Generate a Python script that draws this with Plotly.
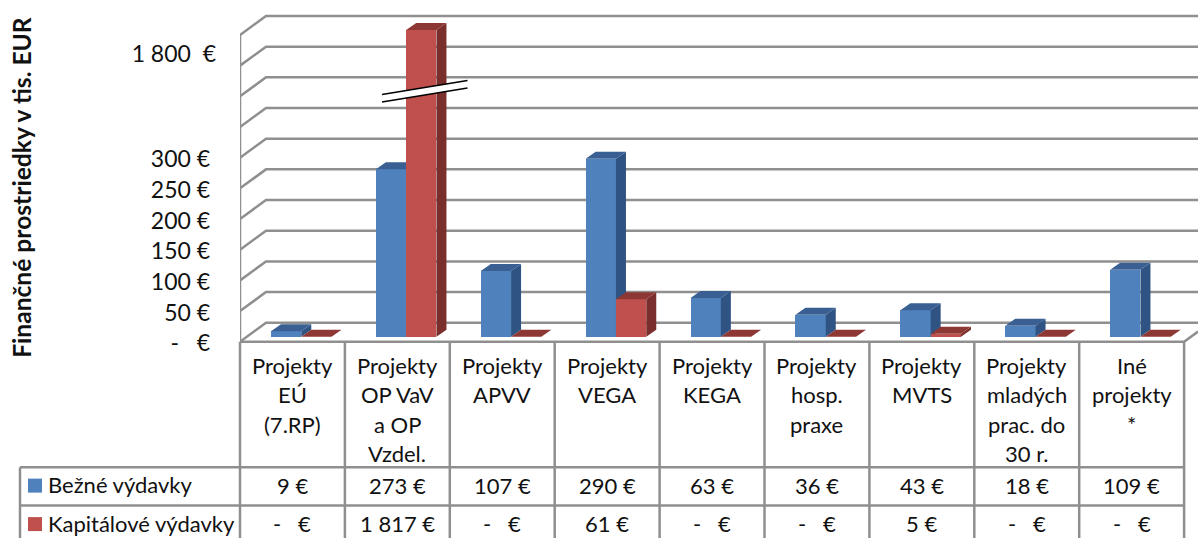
import numpy as np
import plotly.graph_objects as go

categories = ["Projekty<br>EÚ<br>(7.RP)", "Projekty<br>OP VaV<br>a OP<br>Vzdel.", "Projekty<br>APVV",
              "Projekty<br>VEGA", "Projekty<br>KEGA", "Projekty<br>hosp.<br>praxe", "Projekty<br>MVTS",
              "Projekty<br>mladých<br>prac. do<br>30 r.", "Iné<br>projekty<br>*"]
bezne = [9, 273, 107, 290, 63, 36, 43, 18, 109]
kapital = [0, 1817, 0, 61, 0, 0, 5, 0, 0]
series_names = ["Bežné výdavky", "Kapitálové výdavky"]
tick_values = [0, 50, 100, 150, 200, 250, 300, 472]
tick_labels = ["-   €", "50 €", "100 €", "150 €", "200 €", "250 €", "300 €", "1 800  €"]
grid_values = list(range(0, 501, 50))

W, H = 1198, 538
X0, Y0 = 240.0, 342.0
CW = 104.9
VS = 0.614
FS = 22
FONT = "Lato"
TEXT = "#111111"
GRID = "#8F8F8F"
LABEL_NUDGE = 2.5
BELOW = 20  # axis units kept below zero so the lowest tick label is inside the axis range
PB = Y0 + BELOW * VS  # pixel row of the plot area's bottom edge


def px(x):
    return (x - X0) / (W - X0)


def py(y):
    return (PB - y) / PB


def broken(v):
    return float(np.interp(v, [0, 300, 1817], [0, 300, 500]))


def money(v):
    if v == 0:
        return "-   €"
    if v >= 1000:
        return f"{v // 1000} {v % 1000:03d} €"
    return f"{v} €"


xmax = (W - X0) / CW
ymax = Y0 / VS
yrange = [-BELOW, ymax]
wall_dx, wall_dy = 26 / CW, 19 / VS
bar_w = 30.3 / CW
bar_dx, bar_dy = 10 / CW, 7 / VS
base = 5 / VS
centre = 0.584

fig = go.Figure()

# walls and floor
gx, gy = [0, 0, None], [0, 500, None]
for g in grid_values:
    gx += [0, wall_dx, xmax, None]
    gy += [g, g + wall_dy, g + wall_dy, None]
t = (xmax - 9) / wall_dx
gx += [0, 9, xmax]
gy += [0, 0, t * wall_dy]
fig.add_trace(go.Scatter(x=gx, y=gy, mode="lines", line=dict(color=GRID, width=2.5),
                         hoverinfo="skip", showlegend=False, cliponaxis=False))


def add_series(values, name, offset, front, side, top, xa, ya):
    xs = [i + centre + offset for i in range(len(values))]
    hs = [broken(v) for v in values]
    fig.add_trace(go.Bar(x=xs, y=hs, base=base, width=bar_w, name=name, marker=dict(color=front, line=dict(width=0)),
                         customdata=values, hovertemplate="%{customdata} €<extra>" + name + "</extra>",
                         showlegend=False, xaxis=xa, yaxis=ya))
    sx, sy, tx, ty = [], [], [], []
    for x, h in zip(xs, hs):
        l, r, b, u = x - bar_w / 2, x + bar_w / 2, base, base + h
        sx += [r, r + bar_dx, r + bar_dx, r, r, None]
        sy += [b, b + bar_dy, u + bar_dy, u, b, None]
        tx += [l, l + bar_dx, r + bar_dx, r, l, None]
        ty += [u, u + bar_dy, u + bar_dy, u, u, None]
    for a, b, c in ((sx, sy, side), (tx, ty, top)):
        fig.add_trace(go.Scatter(x=a, y=b, mode="lines", fill="toself", fillcolor=c, line=dict(width=0, color=c),
                                 hoverinfo="skip", showlegend=False, xaxis=xa, yaxis=ya))


add_series(bezne, series_names[0], -bar_w / 2, "#4F81BD", "#2F5483", "#3A6093", "x2", "y2")
add_series(kapital, series_names[1], bar_w / 2, "#C0504D", "#7A2F2D", "#8E3836", "x3", "y3")

shapes = []


def line(x0, y0, x1, y1, color=GRID, width=2.5):
    shapes.append(dict(type="line", xref="paper", yref="paper", x0=px(x0), y0=py(y0), x1=px(x1), y1=py(y1),
                       line=dict(color=color, width=width)))


# data table grid
edges = [X0 + CW * i for i in range(len(categories) + 1)]
for x in edges:
    line(x, Y0, x, H + 2)
for y in (467.7, 506):
    line(20, y, edges[-1], y)
line(20, 467.7, 20, H + 2)

# axis break
shapes.append(dict(type="path", xref="paper", yref="paper",
                   path=f"M {px(382)} {py(94.5)} L {px(467.5)} {py(80.5)} L {px(467.5)} {py(88)} L {px(382)} {py(102)} Z",
                   fillcolor="white", line=dict(width=0)))
line(382, 94.5, 467.5, 80.5, "#000000", 1.6)
line(382, 102, 467.5, 88, "#000000", 1.6)

# legend keys
for y, c in ((486, "#4F81BD"), (524.5, "#C0504D")):
    shapes.append(dict(type="rect", xref="paper", yref="paper", x0=px(28), x1=px(42), y0=py(y - 7), y1=py(y + 7),
                       fillcolor=c, line=dict(width=0)))

ann = []


def text(x, y, s, anchor="center", size=FS, **kw):
    ann.append(dict(x=px(x), y=py(y), xref="paper", yref="paper", text=s, showarrow=False, xanchor=anchor,
                    yanchor="middle", font=dict(family=FONT, size=size, color=TEXT), **kw))


for i, c in enumerate(categories):
    xc = edges[i] + CW / 2
    for j, part in enumerate(c.split("<br>")):
        text(xc, 366 + j * 29.3, part)
    text(xc, 486, money(bezne[i]))
    text(xc, 523.5, money(kapital[i]))
text(46, 485, series_names[0], "left")
text(46, 523.5, series_names[1], "left")
text(22, 188, "<b>Finančné prostriedky v tis. EUR</b>", size=24.6, textangle=-90)

axis_off = dict(visible=False, fixedrange=True)
fig.update_layout(
    width=W, height=H, margin=dict(l=X0, r=0, t=0, b=H - PB), autosize=False,
    paper_bgcolor="white", plot_bgcolor="white", bargap=0, barmode="overlay", showlegend=False,
    xaxis=dict(range=[0, xmax], visible=False, fixedrange=True),
    yaxis=dict(range=yrange, tickmode="array", tickvals=[v - LABEL_NUDGE for v in tick_values],
               ticktext=[s + "\u00a0" if "800" not in s else s for s in tick_labels],
               showgrid=False, zeroline=False, showline=False, ticks="", ticklabelstandoff=23,
               tickfont=dict(family=FONT, size=23, color=TEXT), fixedrange=True),
    xaxis2=dict(range=[0, xmax], overlaying="x", **axis_off),
    yaxis2=dict(range=yrange, overlaying="y", **axis_off),
    xaxis3=dict(range=[0, xmax], overlaying="x", **axis_off),
    yaxis3=dict(range=yrange, overlaying="y", **axis_off),
    shapes=shapes, annotations=ann,
)
fig.write_html("out.html", config=dict(displayModeBar=False),
               post_script="document.body.style.margin='0';document.documentElement.style.overflow='hidden';")
